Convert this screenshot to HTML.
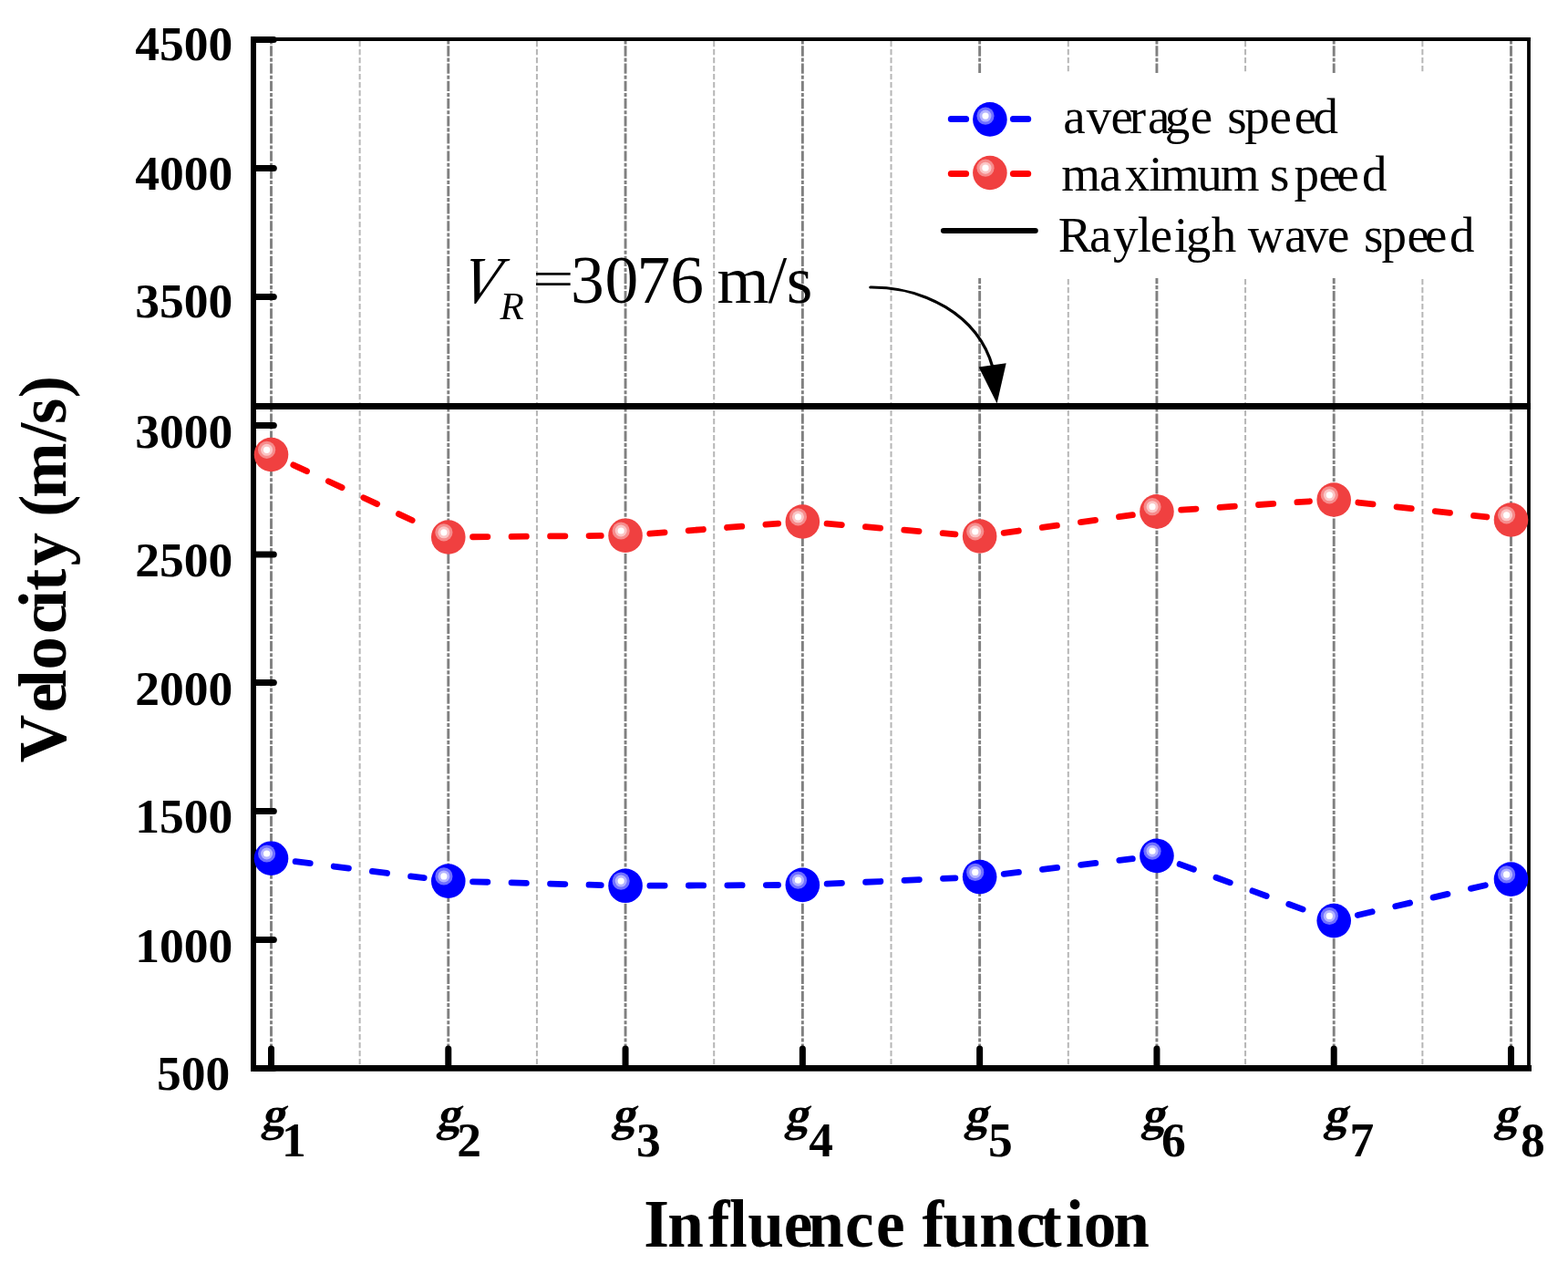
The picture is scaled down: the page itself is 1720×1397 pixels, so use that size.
<!DOCTYPE html>
<html lang="en"><head><meta charset="utf-8"><title>Velocity vs influence function</title>
<style>html,body{margin:0;padding:0;background:#fff;}body{width:1720px;height:1397px;overflow:hidden;}svg{display:block;}text{font-family:"Liberation Serif","DejaVu Serif",serif;fill:#000;white-space:pre;}.tk{font-weight:bold;font-size:53.5px;}.gi{font-weight:bold;font-size:52px;}.ttl{font-weight:bold;font-size:75px;}.lg{font-size:55px;}.an{font-size:73.5px;}.it{font-style:italic;}</style></head><body>
<svg width="1720" height="1397" viewBox="0 0 1720 1397">
<rect width="1720" height="1397" fill="#fff"/>
<g stroke="#b6b6b6" stroke-width="2" stroke-dasharray="6.2 2.8" fill="none">
<line x1="394.64" y1="45" x2="394.64" y2="1168"/>
<line x1="588.93" y1="45" x2="588.93" y2="1168"/>
<line x1="783.21" y1="45" x2="783.21" y2="1168"/>
<line x1="977.50" y1="45" x2="977.50" y2="1168"/>
<line x1="1171.79" y1="45" x2="1171.79" y2="1168"/>
<line x1="1366.07" y1="45" x2="1366.07" y2="1168"/>
<line x1="1560.36" y1="45" x2="1560.36" y2="1168"/>
</g>
<g stroke="#808080" stroke-width="2.9" stroke-dasharray="11.3 1.9 4.1 1.894" stroke-dashoffset="13.844" fill="none">
<line x1="297.50" y1="45" x2="297.50" y2="1168"/>
<line x1="491.79" y1="45" x2="491.79" y2="1168"/>
<line x1="686.07" y1="45" x2="686.07" y2="1168"/>
<line x1="880.36" y1="45" x2="880.36" y2="1168"/>
<line x1="1074.64" y1="45" x2="1074.64" y2="1168"/>
<line x1="1268.93" y1="45" x2="1268.93" y2="1168"/>
<line x1="1463.21" y1="45" x2="1463.21" y2="1168"/>
<line x1="1657.50" y1="45" x2="1657.50" y2="1168"/>
</g>
<rect x="1005" y="80" width="640" height="225" fill="#fff"/>
<g stroke="#000" fill="none">
<line x1="275" y1="43" x2="1679" y2="43" stroke-width="3.8"/>
<line x1="1677" y1="41.1" x2="1677" y2="1172" stroke-width="3.8"/>
<line x1="278" y1="40" x2="278" y2="1174.7" stroke-width="6"/>
<line x1="275" y1="1171.4" x2="1680" y2="1171.4" stroke-width="6.6"/>
</g>
<g stroke="#000" stroke-width="7" stroke-linecap="round" fill="none">
<line x1="280" y1="43.40" x2="300.3" y2="43.40"/>
<line x1="280" y1="184.40" x2="300.3" y2="184.40"/>
<line x1="280" y1="325.40" x2="300.3" y2="325.40"/>
<line x1="280" y1="466.40" x2="300.3" y2="466.40"/>
<line x1="280" y1="608.00" x2="300.3" y2="608.00"/>
<line x1="280" y1="748.40" x2="300.3" y2="748.40"/>
<line x1="280" y1="889.40" x2="300.3" y2="889.40"/>
<line x1="280" y1="1030.40" x2="300.3" y2="1030.40"/>
<line x1="280" y1="1171.40" x2="300.3" y2="1171.40"/>
<line x1="297.50" y1="1170" x2="297.50" y2="1150"/>
<line x1="491.79" y1="1170" x2="491.79" y2="1150"/>
<line x1="686.07" y1="1170" x2="686.07" y2="1150"/>
<line x1="880.36" y1="1170" x2="880.36" y2="1150"/>
<line x1="1074.64" y1="1170" x2="1074.64" y2="1150"/>
<line x1="1268.93" y1="1170" x2="1268.93" y2="1150"/>
<line x1="1463.21" y1="1170" x2="1463.21" y2="1150"/>
<line x1="1657.50" y1="1170" x2="1657.50" y2="1150"/>
</g>
<line x1="278" y1="445.4" x2="1679" y2="445.4" stroke="#000" stroke-width="7"/>
<g class="tk" text-anchor="end">
<text x="255.3" y="66.40">4500</text>
<text x="255.3" y="208.30">4000</text>
<text x="255.3" y="348.10">3500</text>
<text x="255.3" y="490.50">3000</text>
<text x="255.3" y="631.60">2500</text>
<text x="255.3" y="772.60">2000</text>
<text x="255.3" y="913.40">1500</text>
<text x="255.3" y="1054.50">1000</text>
<text x="252.3" y="1195.10">500</text>
</g>
<text class="gi" transform="translate(286.3 1239.3) skewX(-12)" x="0" y="0">g</text><text class="tk" x="309.1" y="1268">1</text>
<text class="gi" transform="translate(478.4 1239.3) skewX(-12)" x="0" y="0">g</text><text class="tk" x="501.3" y="1268">2</text>
<text class="gi" transform="translate(670.4 1239.3) skewX(-12)" x="0" y="0">g</text><text class="tk" x="697.9" y="1268">3</text>
<text class="gi" transform="translate(860.3 1239.3) skewX(-12)" x="0" y="0">g</text><text class="tk" x="887.2" y="1268">4</text>
<text class="gi" transform="translate(1057.2 1239.3) skewX(-12)" x="0" y="0">g</text><text class="tk" x="1084.1" y="1268">5</text>
<text class="gi" transform="translate(1251.5 1239.3) skewX(-12)" x="0" y="0">g</text><text class="tk" x="1273.9" y="1268">6</text>
<text class="gi" transform="translate(1451.4 1239.3) skewX(-12)" x="0" y="0">g</text><text class="tk" x="1480.6" y="1268">7</text>
<text class="gi" transform="translate(1638.4 1239.3) skewX(-12)" x="0" y="0">g</text><text class="tk" x="1668" y="1268">8</text>
<text class="ttl" transform="translate(0 1366.8) scale(0.95 1)" y="0" x="743.3 770.8 817.6 842.2 863.4 905.1 933 975.7 1011.6 1044.9 1064.8 1088.6 1130.8 1173.4 1201.1 1230.4 1251.4 1285.6">Influence function</text>
<text class="ttl" transform="translate(72.2 0) rotate(-90) scale(0.97 1)" y="0" x="-862.1 -805.4 -777.6 -757.3 -716.4 -688 -668 -639.8 -602.3 -584.4 -562.8 -498.9 -479.3 -449.7">Velocity (m/s)</text>
<g stroke="#ff0000" stroke-width="6.8" stroke-linecap="round" stroke-dasharray="16.3 26.2" fill="none">
<line x1="321.79" y1="509.82" x2="467.49" y2="577.68"/>
<line x1="518.58" y1="588.75" x2="659.27" y2="587.45"/>
<line x1="712.79" y1="585.11" x2="853.64" y2="574.09"/>
<line x1="907.07" y1="574.20" x2="1047.93" y2="585.80"/>
<line x1="1101.19" y1="584.30" x2="1242.39" y2="564.60"/>
<line x1="1295.67" y1="559.12" x2="1436.47" y2="549.78"/>
<line x1="1489.84" y1="551.02" x2="1630.87" y2="566.98"/>
</g>
<g stroke="#0000ff" stroke-width="6.8" stroke-linecap="round" stroke-dasharray="16.3 26.2" fill="none">
<line x1="324.08" y1="944.61" x2="465.20" y2="962.69"/>
<line x1="518.58" y1="966.82" x2="659.28" y2="970.58"/>
<line x1="712.87" y1="971.18" x2="853.56" y2="970.52"/>
<line x1="907.13" y1="969.19" x2="1047.87" y2="962.81"/>
<line x1="1101.25" y1="958.42" x2="1242.32" y2="941.58"/>
<line x1="1294.09" y1="947.62" x2="1438.05" y2="1000.38"/>
<line x1="1489.31" y1="1003.49" x2="1631.41" y2="970.21"/>
</g>
<circle cx="297.50" cy="498.50" r="18.8" fill="#f04040"/>
<circle cx="292.60" cy="493.30" r="9.6" fill="#f68c8c"/>
<circle cx="292.60" cy="493.30" r="6.5" fill="#fbc6c6"/>
<circle cx="292.60" cy="493.30" r="3.6" fill="#ffffff"/>
<circle cx="491.79" cy="589.00" r="18.8" fill="#f04040"/>
<circle cx="486.89" cy="583.80" r="9.6" fill="#f68c8c"/>
<circle cx="486.89" cy="583.80" r="6.5" fill="#fbc6c6"/>
<circle cx="486.89" cy="583.80" r="3.6" fill="#ffffff"/>
<circle cx="686.07" cy="587.20" r="18.8" fill="#f04040"/>
<circle cx="681.17" cy="582.00" r="9.6" fill="#f68c8c"/>
<circle cx="681.17" cy="582.00" r="6.5" fill="#fbc6c6"/>
<circle cx="681.17" cy="582.00" r="3.6" fill="#ffffff"/>
<circle cx="880.36" cy="572.00" r="18.8" fill="#f04040"/>
<circle cx="875.46" cy="566.80" r="9.6" fill="#f68c8c"/>
<circle cx="875.46" cy="566.80" r="6.5" fill="#fbc6c6"/>
<circle cx="875.46" cy="566.80" r="3.6" fill="#ffffff"/>
<circle cx="1074.64" cy="588.00" r="18.8" fill="#f04040"/>
<circle cx="1069.74" cy="582.80" r="9.6" fill="#f68c8c"/>
<circle cx="1069.74" cy="582.80" r="6.5" fill="#fbc6c6"/>
<circle cx="1069.74" cy="582.80" r="3.6" fill="#ffffff"/>
<circle cx="1268.93" cy="560.90" r="18.8" fill="#f04040"/>
<circle cx="1264.03" cy="555.70" r="9.6" fill="#f68c8c"/>
<circle cx="1264.03" cy="555.70" r="6.5" fill="#fbc6c6"/>
<circle cx="1264.03" cy="555.70" r="3.6" fill="#ffffff"/>
<circle cx="1463.21" cy="548.00" r="18.8" fill="#f04040"/>
<circle cx="1458.31" cy="542.80" r="9.6" fill="#f68c8c"/>
<circle cx="1458.31" cy="542.80" r="6.5" fill="#fbc6c6"/>
<circle cx="1458.31" cy="542.80" r="3.6" fill="#ffffff"/>
<circle cx="1657.50" cy="570.00" r="18.8" fill="#f04040"/>
<circle cx="1652.60" cy="564.80" r="9.6" fill="#f68c8c"/>
<circle cx="1652.60" cy="564.80" r="6.5" fill="#fbc6c6"/>
<circle cx="1652.60" cy="564.80" r="3.6" fill="#ffffff"/>
<circle cx="297.50" cy="941.20" r="18.8" fill="#0000ff"/>
<circle cx="292.60" cy="936.00" r="9.6" fill="#7070ff"/>
<circle cx="292.60" cy="936.00" r="6.5" fill="#b4b4ff"/>
<circle cx="292.60" cy="936.00" r="3.6" fill="#ffffff"/>
<circle cx="491.79" cy="966.10" r="18.8" fill="#0000ff"/>
<circle cx="486.89" cy="960.90" r="9.6" fill="#7070ff"/>
<circle cx="486.89" cy="960.90" r="6.5" fill="#b4b4ff"/>
<circle cx="486.89" cy="960.90" r="3.6" fill="#ffffff"/>
<circle cx="686.07" cy="971.30" r="18.8" fill="#0000ff"/>
<circle cx="681.17" cy="966.10" r="9.6" fill="#7070ff"/>
<circle cx="681.17" cy="966.10" r="6.5" fill="#b4b4ff"/>
<circle cx="681.17" cy="966.10" r="3.6" fill="#ffffff"/>
<circle cx="880.36" cy="970.40" r="18.8" fill="#0000ff"/>
<circle cx="875.46" cy="965.20" r="9.6" fill="#7070ff"/>
<circle cx="875.46" cy="965.20" r="6.5" fill="#b4b4ff"/>
<circle cx="875.46" cy="965.20" r="3.6" fill="#ffffff"/>
<circle cx="1074.64" cy="961.60" r="18.8" fill="#0000ff"/>
<circle cx="1069.74" cy="956.40" r="9.6" fill="#7070ff"/>
<circle cx="1069.74" cy="956.40" r="6.5" fill="#b4b4ff"/>
<circle cx="1069.74" cy="956.40" r="3.6" fill="#ffffff"/>
<circle cx="1268.93" cy="938.40" r="18.8" fill="#0000ff"/>
<circle cx="1264.03" cy="933.20" r="9.6" fill="#7070ff"/>
<circle cx="1264.03" cy="933.20" r="6.5" fill="#b4b4ff"/>
<circle cx="1264.03" cy="933.20" r="3.6" fill="#ffffff"/>
<circle cx="1463.21" cy="1009.60" r="18.8" fill="#0000ff"/>
<circle cx="1458.31" cy="1004.40" r="9.6" fill="#7070ff"/>
<circle cx="1458.31" cy="1004.40" r="6.5" fill="#b4b4ff"/>
<circle cx="1458.31" cy="1004.40" r="3.6" fill="#ffffff"/>
<circle cx="1657.50" cy="964.10" r="18.8" fill="#0000ff"/>
<circle cx="1652.60" cy="958.90" r="9.6" fill="#7070ff"/>
<circle cx="1652.60" cy="958.90" r="6.5" fill="#b4b4ff"/>
<circle cx="1652.60" cy="958.90" r="3.6" fill="#ffffff"/>
<g stroke-width="7" stroke-linecap="round" fill="none">
<line x1="1043.3" y1="130.4" x2="1059.6" y2="130.4" stroke="#0000ff"/><line x1="1111.4" y1="130.4" x2="1127.7" y2="130.4" stroke="#0000ff"/>
<line x1="1043.3" y1="190.4" x2="1059.6" y2="190.4" stroke="#ff0000"/><line x1="1111.4" y1="190.4" x2="1127.7" y2="190.4" stroke="#ff0000"/>
</g>
<circle cx="1085.90" cy="130.90" r="18.8" fill="#0000ff"/>
<circle cx="1081.00" cy="127.10" r="9.6" fill="#7070ff"/>
<circle cx="1081.00" cy="127.10" r="6.5" fill="#b4b4ff"/>
<circle cx="1081.00" cy="127.10" r="3.6" fill="#ffffff"/>
<circle cx="1085.90" cy="189.50" r="18.8" fill="#f04040"/>
<circle cx="1081.00" cy="184.20" r="9.6" fill="#f68c8c"/>
<circle cx="1081.00" cy="184.20" r="6.5" fill="#fbc6c6"/>
<circle cx="1081.00" cy="184.20" r="3.6" fill="#ffffff"/>
<line x1="1035" y1="253" x2="1135.7" y2="253" stroke="#000" stroke-width="6.2" stroke-linecap="round"/>
<text class="lg" y="145.8" x="1166.2 1191.7 1218.6 1238.7 1259.1 1277.7 1305.7 1330.1 1346.2 1365.3 1392.6 1419.8 1440.4">average speed</text>
<text class="lg" y="209.3" x="1164.3 1206.1 1233.7 1260.2 1272.8 1313.2 1338.8 1381.5 1393.1 1419.5 1446.6 1466.6 1493.9">maximum speed</text>
<text class="lg" y="276" x="1160.8 1195.1 1220.9 1247.7 1261.7 1287.9 1300.7 1328.8 1356.3 1368.7 1409.1 1430 1455.9 1480.3 1495.9 1515.6 1543.4 1563 1590">Rayleigh wave speed</text>
<text class="an it" transform="translate(503.6 332.4) skewX(-11) scale(0.9 1)" x="0" y="0">V</text>
<text class="an it" style="font-size:43px" x="548.4" y="350.1">R</text>
<text class="an" transform="translate(583.9 325.2) scale(1.1 0.78)" x="0" y="0">=</text>
<text class="an" y="332.4" x="626 663.6 698.4 735.2 771.9 786.4 842.7 862.8">3076 m/s</text>
<path d="M954.8 315 C1012 314.6 1072.5 344 1089 403" stroke="#000" stroke-width="3.2" stroke-linecap="round" fill="none"/>
<path d="M1073.6 402.6 L1103.7 398.3 L1093.6 442.5 Z" fill="#000"/>
</svg></body></html>
